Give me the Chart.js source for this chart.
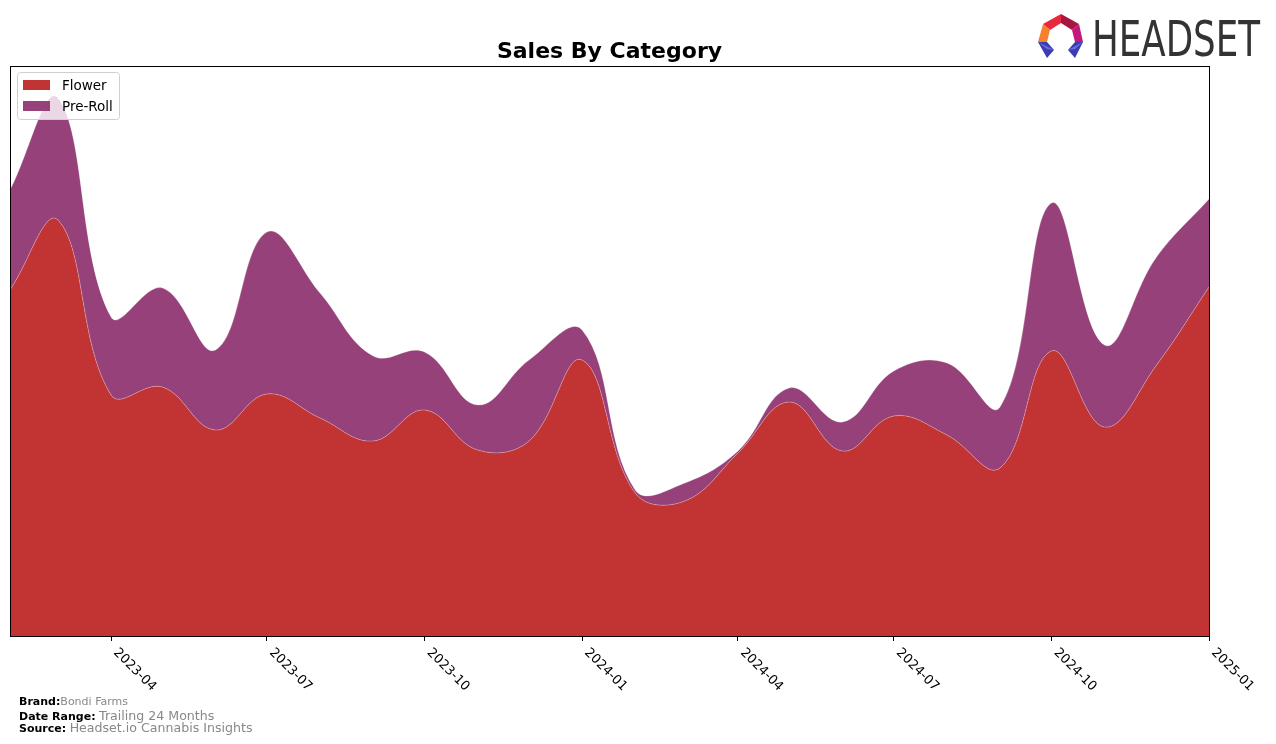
<!DOCTYPE html>
<html><head><meta charset="utf-8">
<script src="https://cdn.jsdelivr.net/npm/chart.js@4.4.0/dist/chart.umd.min.js"></script>
<style>
html,body{margin:0;padding:0;background:#fff;width:1276px;height:744px;overflow:hidden;font-family:"DejaVu Sans",sans-serif;}
#wrap{position:absolute;left:0;top:0;width:1276px;height:744px;}
#c{position:absolute;left:0;top:0;}
#logo{position:absolute;left:0;top:0;}
.meta{position:absolute;left:19px;font-size:11px;color:#888;white-space:nowrap;line-height:12px;}
.meta b{color:#000;}
.meta .big{font-size:12.6px;}
</style></head><body>
<div id="wrap">
<canvas id="c" width="1276" height="744"></canvas>
<svg id="logo" width="1276" height="70" xmlns="http://www.w3.org/2000/svg">
  <polygon points="1061,14 1043,24 1050,30 1061,23" fill="#e8283c"/>
  <polygon points="1061,14 1079,24 1072,30 1061,23" fill="#a8163f"/>
  <polygon points="1043,24 1038,42 1047,42 1050,30" fill="#f5822a"/>
  <polygon points="1079,24 1083,42 1075,42 1072,30" fill="#c4177c"/>
  <polygon points="1038,42 1047,42 1054,50 1047,58" fill="#3b3db0"/>
  <polygon points="1038,42 1054,50 1047,49" fill="#6a6ee0"/>
  <polygon points="1083,42 1075,42 1068,50 1075,58" fill="#3b3db0"/>
  <polygon points="1083,42 1068,50 1075,49" fill="#6a6ee0"/>
  <text x="1092" y="56" font-family="'Liberation Sans Narrow','DejaVu Sans Condensed',sans-serif" font-size="50" fill="#333" textLength="168" lengthAdjust="spacingAndGlyphs">HEADSET</text>
</svg>
<div class="meta" style="top:696px"><b>Brand:</b>Bondi Farms</div>
<div class="meta" style="top:710px"><b>Date Range:</b> <span class="big">Trailing 24 Months</span></div>
<div class="meta" style="top:722px"><b>Source:</b> <span class="big">Headset.io Cannabis Insights</span></div>
</div>
<script>
// ---- data ----
const months = ['2023-02','2023-03','2023-04','2023-05','2023-06','2023-07','2023-08','2023-09','2023-10','2023-11','2023-12','2024-01',
                '2024-02','2024-03','2024-04','2024-05','2024-06','2024-07','2024-08','2024-09','2024-10','2024-11','2024-12','2025-01'];
const flower  = [346,416,241,249,206,242,218,195,226,186,195,276,143,135,183,234,185,220,201,168,285,209,270,349];
const preRoll = [100,122,78,99,80,162,125,85,58,45,81,30,3,18,2,14,29,45,72,61,148,82,108,88];
const tickLabels = ['2023-04','2023-07','2023-10','2024-01','2024-04','2024-07','2024-10','2025-01'];
const seriesNames = ['Flower','Pre-Roll'];
const seriesColors = ['#c13433','#96417a'];

function dayOf(m){const [y,mo]=m.split('-').map(Number);return (Date.UTC(y,mo-1,1)-Date.UTC(2023,1,1))/86400000;}
const xs = months.map(dayOf);
const tickVals = tickLabels.map(dayOf);

const frame = {
  id:'frame',
  afterDraw(chart){
    const ctx=chart.ctx, a=chart.chartArea, xs=chart.scales.x;
    ctx.save();
    // border
    ctx.strokeStyle='#000';ctx.lineWidth=1;
    ctx.strokeRect(Math.round(a.left)+0.5,Math.round(a.top)+0.5,Math.round(a.right-a.left),Math.round(a.bottom-a.top));
    // tick labels
    ctx.fillStyle='#000';ctx.font='13px "DejaVu Sans"';ctx.textAlign='left';ctx.textBaseline='top';
    tickLabels.forEach((t,i)=>{
      const px=xs.getPixelForValue(tickVals[i]);
      ctx.save();ctx.translate(px+9,646);ctx.rotate(Math.PI/4);ctx.fillText(t,0,0);ctx.restore();
    });
    // title
    ctx.font='bold 22px "DejaVu Sans"';ctx.textAlign='center';ctx.textBaseline='alphabetic';
    ctx.fillText('Sales By Category',(a.left+a.right)/2,58);
    // legend
    const lx=17,ly=72,lw=102,lh=47;
    ctx.beginPath();
    if(ctx.roundRect)ctx.roundRect(lx+0.5,ly+0.5,lw,lh,3);else ctx.rect(lx+0.5,ly+0.5,lw,lh);
    ctx.fillStyle='rgba(255,255,255,0.8)';ctx.fill();
    ctx.strokeStyle='#d0d0d0';ctx.lineWidth=1;ctx.stroke();
    ctx.font='13.5px "DejaVu Sans"';ctx.textBaseline='middle';ctx.textAlign='left';
    chart.data.datasets.forEach((ds,i)=>{
      const y=ly+13+i*21;
      ctx.fillStyle=ds.backgroundColor;ctx.fillRect(23,y-5,27,10);
      ctx.fillStyle='#000';ctx.fillText(ds.label,62,y+1);
    });
    ctx.restore();
  }
};

new Chart(document.getElementById('c'),{
  type:'line',
  data:{datasets:[
    {label:seriesNames[0],data:xs.map((x,i)=>({x,y:flower[i]})),backgroundColor:seriesColors[0],borderColor:'rgba(255,255,255,0.35)',borderWidth:0.8,fill:'origin',pointRadius:0,tension:0.4},
    {label:seriesNames[1],data:xs.map((x,i)=>({x,y:preRoll[i]})),backgroundColor:seriesColors[1],borderColor:'rgba(255,255,255,0.35)',borderWidth:0.8,fill:'-1',pointRadius:0,tension:0.4}
  ]},
  options:{
    responsive:false,animation:false,
    layout:{padding:{left:10,right:67,top:66,bottom:0}},
    plugins:{legend:{display:false},title:{display:false},tooltip:{enabled:false}},
    scales:{
      x:{type:'linear',min:xs[0],max:xs[xs.length-1],
         afterBuildTicks(s){s.ticks=tickVals.map(v=>({value:v}));},
         afterFit(s){s.height=108;},
         ticks:{display:false},
         grid:{drawOnChartArea:false,drawTicks:true,tickLength:5,color:'#000'},
         border:{display:true,color:'#000'}},
      y:{stacked:true,min:0,max:570,display:false}
    }
  },
  plugins:[frame]
});
</script>
</body></html>
